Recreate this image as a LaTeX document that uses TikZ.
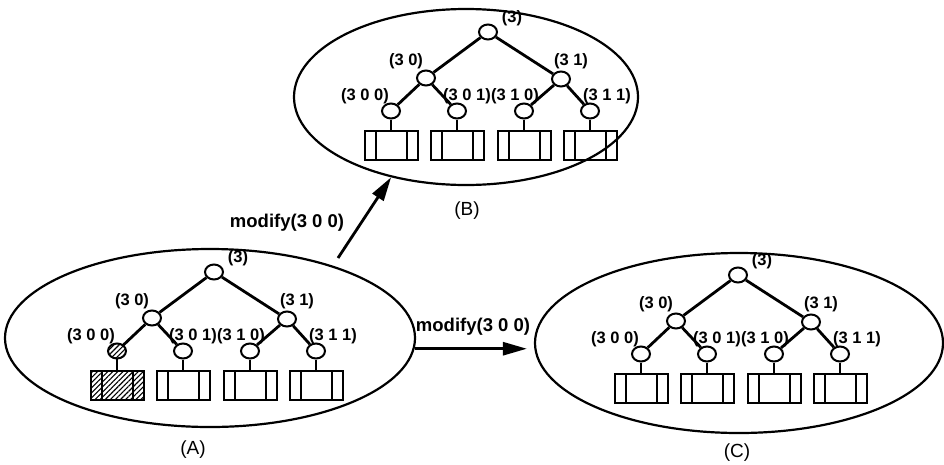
\documentclass[tikz,border=0pt]{standalone}
\usepackage{fontspec}
\setmainfont{Liberation Sans}
\usetikzlibrary{shapes.geometric,arrows.meta,patterns.meta}

\begin{document}
\begin{tikzpicture}[x=1pt,y=-1pt,
  lbl/.style={font=\fontsize{16.5}{16.5}\selectfont\bfseries, inner sep=0pt},
  modtext/.style={font=\fontsize{18.5}{18.5}\selectfont\bfseries, inner sep=0pt},
  treename/.style={font=\fontsize{19}{19}\selectfont, inner sep=0pt},
  vtx/.style={draw, line width=2pt, ellipse, fill=white, minimum width=18pt, minimum height=15pt, inner sep=0pt},
  rec/.style={draw, line width=2pt, minimum width=53pt, minimum height=29pt, inner sep=0pt,
    path picture={\draw[line width=2pt]
      ([xshift=11pt]path picture bounding box.north west) -- ([xshift=11pt]path picture bounding box.south west)
      ([xshift=-11pt]path picture bounding box.north east) -- ([xshift=-11pt]path picture bounding box.south east);}},
  branch/.style={line width=2.8pt},
  stub/.style={line width=2pt},
  version/.style={draw, line width=2.2pt, ellipse, inner sep=0pt},
  hatched/.style={pattern={Lines[angle=45,distance=3.6pt,line width=1.1pt]}},
  clean/.style={},
  modarrow/.style={line width=2.8pt, -{Triangle[length=24pt,width=13pt]}}
]
\useasboundingbox (0,0) rectangle (944,464);

\node[version, minimum width=410pt, minimum height=178pt] (stA) at (210,338) {};
\node[version, minimum width=344pt, minimum height=176pt] (stB) at (466,97) {};
\node[version, minimum width=408pt, minimum height=180pt] (stC) at (739,343) {};

\foreach \t/\x/\y/\hs in {A/214/272/hatched, B/488/32/clean, C/738/275/clean}{
\begin{scope}[shift={(\x,\y)}, name prefix=\t-]
\node[vtx] (r) at (0,0) {};
\node[vtx] (n0) at (-62,46) {};
\node[vtx] (n1) at (73,47) {};
\node[vtx,\hs] (l00) at (-97,79) {};
\node[vtx] (l01) at (-31,79) {};
\node[vtx] (l10) at (36,79) {};
\node[vtx] (l11) at (102,79) {};
\node[rec,\hs] (b00) at (-97,113) {};
\node[rec] (b01) at (-31,113) {};
\node[rec] (b10) at (36,113) {};
\node[rec] (b11) at (102,113) {};
\draw[branch] (r) -- (n0) (r) -- (n1) (n0) -- (l00) (n0) -- (l01) (n1) -- (l10) (n1) -- (l11);
\draw[stub] (l00) -- (b00) (l01) -- (b01) (l10) -- (b10) (l11) -- (b11);
\node[lbl] at (24,-14) {(3)};
\node[lbl] at (-82,29) {(3 0)};
\node[lbl] at (83,29) {(3 1)};
\node[lbl] at (-123,64) {(3 0 0)};
\node[lbl] at (-21,64) {(3 0 1)};
\node[lbl] at (27,64) {(3 1 0)};
\node[lbl] at (119,64) {(3 1 1)};
\end{scope}
}

\coordinate (tailAB) at (338,258);
\draw[modarrow] (tailAB) -- (stB.227);
\draw[modarrow, shorten >=7pt] (stA.-3) -- (stA.-3 -| stC.west);
\node[modtext] (mAB) at (287,223) {modify(3 0 0)};
\node[modtext] (mAC) at (473,327) {modify(3 0 0)};

\node[treename] (nA) at (193,450) {(A)};
\node[treename] (nB) at (467,211) {(B)};
\node[treename] (nC) at (737,453) {(C)};
\end{tikzpicture}
\end{document}
